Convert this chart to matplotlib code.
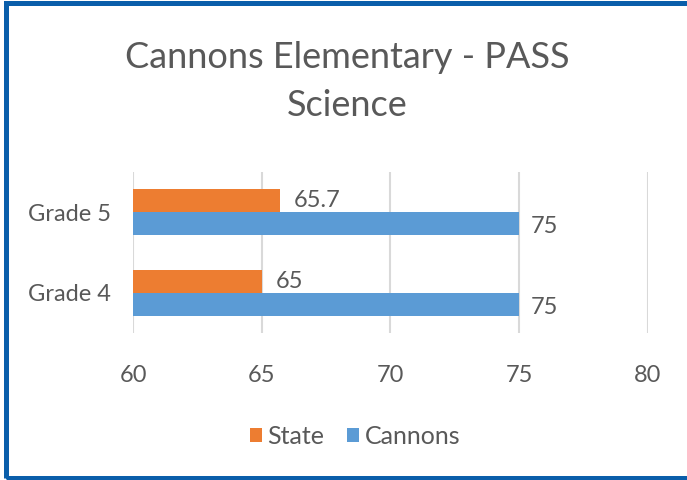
import numpy as np
import matplotlib.pyplot as plt
from matplotlib.patches import Rectangle

grades = ["Grade 4", "Grade 5"]
state = [65, 65.7]
cannons = [75, 75]
state_labels = ["65", "65.7"]
cannons_labels = ["75", "75"]

plt.rcParams['font.family'] = ['Lato', 'DejaVu Sans']
txt = '#595959'

fig = plt.figure(figsize=(6.87, 4.8), dpi=100)
ax = fig.add_axes([0.1936, 0.306, 0.7496, 0.336])

y = np.arange(len(grades))
h = 0.285
b1 = ax.barh(y + h / 2, state, height=h, left=0, color='#ED7D31', label='State')
b2 = ax.barh(y - h / 2, cannons, height=h, left=0, color='#5B9BD5', label='Cannons')

for bar, lab in zip(b1, state_labels):
    ax.annotate(lab, (bar.get_width(), bar.get_y() + bar.get_height() / 2),
                xytext=(10, 0), textcoords='offset points', va='center', ha='left',
                fontsize=17, color=txt)
for bar, lab in zip(b2, cannons_labels):
    ax.annotate(lab, (bar.get_width(), bar.get_y() + bar.get_height() / 2),
                xytext=(8, -2), textcoords='offset points', va='center', ha='left',
                fontsize=17, color=txt)

ax.set_xlim(60, 80)
ax.set_ylim(-0.5, 1.5)
ax.set_xticks([60, 65, 70, 75, 80])
ax.set_yticks(y)
ax.set_yticklabels(grades)
ax.tick_params(axis='both', length=0, labelsize=17, colors=txt)
ax.tick_params(axis='x', pad=23)
ax.tick_params(axis='y', pad=16)
ax.grid(axis='x', color='#D9D9D9', linewidth=1.5)
ax.set_axisbelow(True)
for s in ax.spines.values():
    s.set_visible(False)

fig.text(0.506, 0.831, "Cannons Elementary - PASS\nScience", ha='center', va='center',
         fontsize=26, color=txt, linespacing=1.55)

ax.legend(loc='center', bbox_to_anchor=(0.431, -0.64), ncol=2, frameon=False,
          fontsize=18, labelcolor=txt, handlelength=0.5, handleheight=0.5,
          handletextpad=0.2, columnspacing=0.9)

fig.add_artist(Rectangle((5.5 / 687, 2.5 / 480), 1.2, 475 / 480, fill=False,
                         edgecolor='#0A5EAA', linewidth=3.6, transform=fig.transFigure))

fig.savefig("out.png", dpi=100)
